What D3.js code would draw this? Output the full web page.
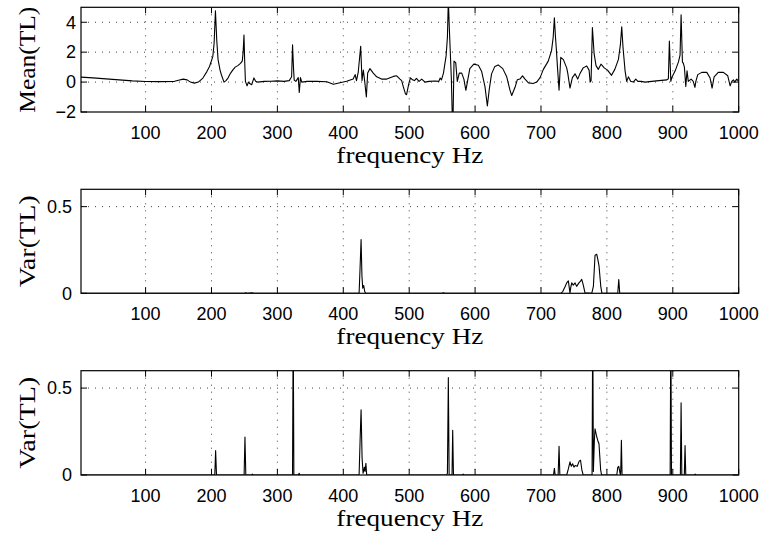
<!DOCTYPE html>
<html lang="en">
<head>
  <meta charset="UTF-8">
  <title>Mean and variance of TL</title>
  <style>
    body, html { margin: 0; padding: 0; background: #fff; }
    svg { display: block; }
    .tick-label { font-family: "Liberation Sans", Arial, sans-serif; font-size: 18px; fill: #000; }
    .axis-title { font-family: "Liberation Serif", "Times New Roman", serif; font-size: 23px; fill: #000; }
  </style>
</head>
<body>
  <svg id="svg" width="764" height="538"></svg>

  <script src="https://cdn.jsdelivr.net/npm/d3@7"></script>
  <script>
    // x ticks shared by every panel
    const freqTicks = [100, 200, 300, 400, 500, 600, 700, 800, 900, 1000];
    const meanTicks = [-2, 0, 2, 4];
    const varTicks = [0, 0.5];

    // [frequency Hz, Mean(TL)]
    const meanTL = [
      [2,0.33],[20,0.28],[50,0.18],[80,0.08],[100,0.04],[120,0.03],[144,0.05],[150,0.12],[157,0.2],[163,0.15],
      [168,0.0],[174,-0.07],[180,0.0],[187,0.27],[193,0.7],[197,1.04],[202,1.7],[204,2.6],[206,4.77],[208,2.8],
      [210,1.5],[213,0.8],[215,0.49],[219,0.0],[222,0.1],[225,0.27],[229,0.6],[232.5,0.82],[236,1.0],[240,1.1],
      [244,1.25],[246.7,1.4],[248,2.0],[249.3,3.15],[250.3,1.5],[251.5,0.05],[254,-0.25],[256,0.0],[258,-0.1],[261,-0.18],
      [264.4,0.28],[267,0.05],[270,0.0],[280,0.05],[290,0.06],[300,0.08],[310,0.05],[318,0.1],[321.6,0.36],[323,2.5],
      [324.5,0.9],[325.5,0.13],[328,0.05],[331.7,0.3],[333.2,-0.7],[335,0.3],[337,0.0],[345,0.05],[360,0.05],[375,0.02],
      [385,-0.15],[395,-0.05],[405,0.05],[415,0.2],[418,0.5],[420,0.1],[422.7,0.67],[426.4,2.4],[428.4,0.1],[430.4,0.8],
      [432.5,0.05],[435,-1.0],[437,0.6],[440.5,0.9],[445.5,0.6],[450.7,0.35],[458,0.2],[466,0.2],[476,0.38],[481,0.42],
      [486,0.2],[488.6,0.1],[491,-0.3],[494.5,-0.8],[496,-0.84],[498.5,-0.3],[500,0.0],[502,0.28],[505,0.15],[508,0.1],
      [511,0.25],[515,0.05],[519,0.2],[524,0.0],[530,0.05],[539,0.07],[545,0.05],[547,0.27],[549,0.15],[552,0.6],
      [556,1.75],[558,3.0],[559.4,5.5],[561,3.5],[562,2.4],[564,0.2],[565.5,-2.5],[566.5,-2.5],[568,1.4],[570.6,1.3],
      [573,0.05],[576,0.6],[579.7,0.6],[583,0.2],[586,-0.55],[588.7,0.1],[592,0.9],[598,1.2],[605,1.12],[610,0.7],
      [615,-0.3],[618.6,-1.6],[621.6,-0.45],[625,0.55],[630,1.05],[635,1.15],[642,0.9],[648,0.35],[653,-0.55],[655.6,-0.9],
      [660.6,-0.35],[664,0.15],[668,0.2],[672,0.42],[675.8,0.2],[681,-0.05],[688,-0.1],[693.5,0.0],[698.6,0.3],[703.6,0.85],
      [711,1.4],[716,2.1],[718.5,3.0],[720.3,4.3],[722,3.0],[723,2.4],[725,1.0],[727.4,-0.55],[730,1.65],[734,1.5],
      [739,0.95],[740.6,0.6],[744,-0.4],[747.6,0.3],[751.7,0.55],[755.7,0.2],[759,0.55],[764,0.95],[769.4,1.08],[773,0.8],
      [774.6,0.0],[776,0.1],[778,3.65],[780.6,1.9],[783.5,1.1],[787,0.85],[791,1.2],[796,0.95],[801,0.8],[807,0.45],
      [812,0.85],[817.4,1.5],[820.5,2.5],[822.5,3.7],[824.5,2.3],[827.6,0.75],[830,0.05],[832.6,0.35],[836,0.05],[840,0.0],
      [843.8,0.2],[847,0.05],[852,0.05],[858,0.0],[875,0.08],[891,0.15],[893.3,0.22],[894.8,2.75],[897,0.05],[898.5,0.3],
      [903.6,0.75],[908.6,1.35],[911,1.8],[912.6,4.5],[914.6,1.35],[916,1.25],[917.6,1.0],[919.7,-0.3],[921.6,0.75],[923.5,0.05],
      [927.8,0.2],[931,0.05],[933.6,-0.35],[935,0.05],[937.9,0.5],[944,0.65],[951.6,0.65],[956.6,0.27],[959.6,-0.4],[962.7,0.35],
      [969,0.65],[976.8,0.65],[983.4,0.42],[987,-0.25],[989.5,0.05],[992,0.15],[994,0.0],[997,0.2],[1000,0.05]
    ];

    // [frequency Hz, Var(TL)] middle panel
    const varTL1 = [
      [2,0],[250,0],[252,0.003],[254,0],[262,0.003],[264,0],[424,0],[425.5,0.15],[427,0.31],[428.3,0.1],
      [429.5,0.03],[431,0.045],[432.5,0.01],[434,0],[550,0],[552,0.003],[554,0],[730,0],[733,0.01],[736.5,0.038],
      [739,0.06],[741.5,0.072],[743,0.03],[744,0.0],[745,0.03],[746.6,0.06],[749,0.047],[751.7,0.06],[754,0.04],[757.6,0.06],
      [760,0.07],[761.8,0.08],[764,0.05],[766.8,0.003],[777,0],[779.5,0.04],[782,0.22],[784.6,0.225],[786,0.2],[788,0.16],
      [790.7,0.04],[792.5,0],[816.5,0],[818,0.08],[819.5,0],[1000,0]
    ];

    // [frequency Hz, Var(TL)] bottom panel
    const varTL2 = [
      [2,0],[205,0],[206.3,0.14],[207.6,0],[249.5,0],[250.8,0.218],[252.1,0],[261,0],[262,0.005],[263,0],
      [323,0],[324,0.9],[325,0],[332,0],[333,0.01],[334,0],[424,0],[425.5,0.2],[427,0.375],[428.5,0.1],
      [430,0.01],[432,0.045],[433,0.02],[434.3,0.067],[435.5,0],[557,0],[558,0.01],[559.4,0.56],[560.6,0],[565,0],
      [566,0.257],[567.2,0],[581,0],[582,0.005],[583,0],[719,0],[720.3,0.038],[721.5,0],[726,0],[727.4,0.165],
      [728.6,0],[739,0],[741.5,0.035],[744,0.076],[746,0.05],[748,0.065],[750,0.045],[752,0.055],[755,0.05],[758,0.08],
      [760,0.085],[762,0.03],[764,0],[777.5,0],[778.5,0.9],[779.5,0.02],[781,0.2],[782,0.266],[784.6,0.22],[786,0.2],
      [788,0.18],[790.5,0.03],[792,0],[815,0],[816.5,0.044],[818,0.05],[819,0.03],[820.5,0],[821,0.02],[822,0.2],
      [823,0],[896,0],[897,0.9],[898,0],[911.5,0],[912.6,0.415],[913.7,0],[917.5,0],[918.6,0.17],[919.7,0],
      [933,0],[934,0.005],[935,0],[1000,0]
    ];

    const svg = d3.select('#svg');
    const left = 81, right = 738.7;

    const panels = [
      { data: meanTL, top: 7.3, bottom: 112, domain: [-2, 5], ticks: meanTicks, label: 'Mean(TL)', labelLen: 106, gap: 5 },
      { data: varTL1, top: 189.3, bottom: 293.3, domain: [0, 0.6], ticks: varTicks, label: 'Var(TL)', labelLen: 92, gap: 9 },
      { data: varTL2, top: 370.7, bottom: 475, domain: [0, 0.6], ticks: varTicks, label: 'Var(TL)', labelLen: 92, gap: 9 }
    ];

    const tickFmt = d => (d < 0 ? '\u2212' + Math.abs(d) : String(d));

    panels.forEach((p, i) => {
      const x = d3.scaleLinear().domain([2, 1000]).range([left, right]);
      const y = d3.scaleLinear().domain(p.domain).range([p.bottom, p.top]);
      const g = svg.append('g');
      const tickLen = 6;

      svg.append('clipPath').attr('id', 'clip' + i)
        .append('rect')
        .attr('x', left).attr('y', p.top)
        .attr('width', right - left).attr('height', p.bottom - p.top);

      // dotted grid
      g.selectAll('.vgrid').data(freqTicks.filter(t => t < 1000)).enter().append('line')
        .attr('x1', d => x(d)).attr('x2', d => x(d))
        .attr('y1', p.top).attr('y2', p.bottom)
        .attr('stroke', '#444').attr('stroke-width', 1)
        .attr('stroke-dasharray', '1,6');
      g.selectAll('.hgrid').data(p.ticks.filter(t => t > p.domain[0])).enter().append('line')
        .attr('x1', left).attr('x2', right)
        .attr('y1', d => y(d)).attr('y2', d => y(d))
        .attr('stroke', '#444').attr('stroke-width', 1)
        .attr('stroke-dasharray', '1,6');

      // inward tick marks on all four sides
      freqTicks.forEach(t => {
        g.append('line').attr('x1', x(t)).attr('x2', x(t))
          .attr('y1', p.bottom).attr('y2', p.bottom - tickLen).attr('stroke', '#000');
        g.append('line').attr('x1', x(t)).attr('x2', x(t))
          .attr('y1', p.top).attr('y2', p.top + tickLen).attr('stroke', '#000');
      });
      p.ticks.forEach(t => {
        g.append('line').attr('x1', left).attr('x2', left + tickLen)
          .attr('y1', y(t)).attr('y2', y(t)).attr('stroke', '#000');
        g.append('line').attr('x1', right).attr('x2', right - tickLen)
          .attr('y1', y(t)).attr('y2', y(t)).attr('stroke', '#000');
      });

      // data line
      const line = d3.line().x(d => x(d[0])).y(d => y(d[1]));
      g.append('path')
        .datum(p.data)
        .attr('clip-path', `url(#clip${i})`)
        .attr('fill', 'none')
        .attr('stroke', '#000')
        .attr('stroke-width', 1.1)
        .attr('stroke-linejoin', 'round')
        .attr('d', line);

      // box
      g.append('rect')
        .attr('x', left).attr('y', p.top)
        .attr('width', right - left).attr('height', p.bottom - p.top)
        .attr('fill', 'none').attr('stroke', '#000').attr('stroke-width', 1.2);

      // tick labels
      g.selectAll('.xl').data(freqTicks).enter().append('text')
        .attr('class', 'tick-label')
        .attr('x', d => x(d)).attr('y', p.bottom + 27)
        .attr('text-anchor', 'middle')
        .text(d => d);
      g.selectAll('.yl').data(p.ticks).enter().append('text')
        .attr('class', 'tick-label')
        .attr('x', left - p.gap).attr('y', d => y(d))
        .attr('dy', '0.35em')
        .attr('text-anchor', 'end')
        .text(tickFmt);

      // axis titles
      g.append('text')
        .attr('class', 'axis-title')
        .attr('x', (left + right) / 2).attr('y', p.bottom + 51)
        .attr('text-anchor', 'middle')
        .attr('textLength', 147).attr('lengthAdjust', 'spacingAndGlyphs')
        .text('frequency Hz');
      g.append('text')
        .attr('class', 'axis-title')
        .attr('transform', `translate(35,${(p.top + p.bottom) / 2}) rotate(-90)`)
        .attr('text-anchor', 'middle')
        .attr('textLength', p.labelLen).attr('lengthAdjust', 'spacingAndGlyphs')
        .text(p.label);
    });
  </script>
</body>
</html>
